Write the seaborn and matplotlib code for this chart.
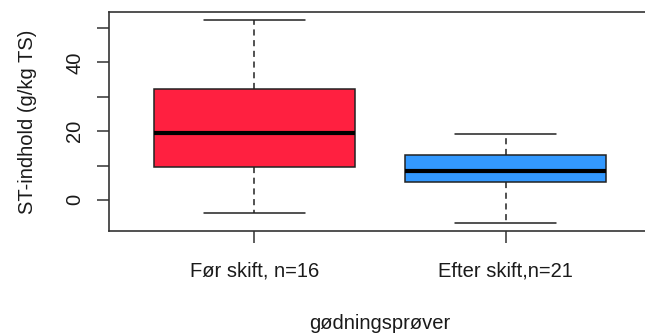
import matplotlib
matplotlib.use("Agg")
import matplotlib.pyplot as plt
import seaborn as sns
import pandas as pd

# Five-number summaries (lower whisker, Q1, median, Q3, upper whisker), g/kg TS
groups = ["Før skift, n=16", "Efter skift,n=21"]
foer_skift = [-3.9, 9.7, 19.4, 32.2, 52.3]
efter_skift = [-6.6, 5.1, 8.5, 13.1, 19.3]
box_colors = ["#FF2040", "#3399FF"]
y_ticks = [0, 10, 20, 30, 40, 50]
y_ticklabels = ["0", "", "20", "", "40", ""]

df = pd.DataFrame({
    "gruppe": [groups[0]] * len(foer_skift) + [groups[1]] * len(efter_skift),
    "st": foer_skift + efter_skift,
})

sns.set_theme(style="white")
plt.rcParams["font.family"] = ["Liberation Sans", "DejaVu Sans"]

fig = plt.figure(figsize=(6.45, 3.34), dpi=100)
ax = fig.add_axes([108.5 / 645, 1 - 230.7 / 334, 543 / 645, (230.7 - 12) / 334])

edge = "#222222"
fs = 14.5
sns.boxplot(
    data=df, x="gruppe", y="st", hue="gruppe", order=groups, hue_order=groups,
    palette=box_colors, width=0.8, whis=1.5, dodge=False, legend=False, ax=ax,
    linewidth=1.1, linecolor=edge, saturation=1,
    boxprops=dict(edgecolor=edge, linewidth=1.1),
    medianprops=dict(color="black", linewidth=3),
    whiskerprops=dict(color=edge, linewidth=1.1, linestyle=(0, (4, 3))),
    capprops=dict(color=edge, linewidth=1.1),
)

ax.set_xlim(-0.58, 1.58)
ax.set_ylim(-8.96, 54.66)
ax.set_yticks(y_ticks)
ax.set_yticklabels(y_ticklabels, rotation=90, va="center", fontsize=fs, color="#1a1a1a")
ax.set_xticks([0, 1])
ax.set_xticklabels(groups, fontsize=fs, color="#1a1a1a")
ax.tick_params(axis="both", direction="out", length=8.5, width=1.1, color="#333333",
               left=True, bottom=True)
ax.tick_params(axis="x", pad=14)
ax.tick_params(axis="y", pad=9)

for side in ["left", "bottom", "top"]:
    ax.spines[side].set_visible(True)
    ax.spines[side].set_color("#333333")
    ax.spines[side].set_linewidth(1.2)
ax.spines["right"].set_visible(False)

ax.set_xlabel("gødningsprøver", fontsize=fs, color="#1a1a1a", labelpad=24)
ax.set_ylabel("ST-indhold (g/kg TS)", fontsize=fs, color="#1a1a1a", labelpad=20)
ax.grid(False)

fig.savefig("out.png", dpi=100)
